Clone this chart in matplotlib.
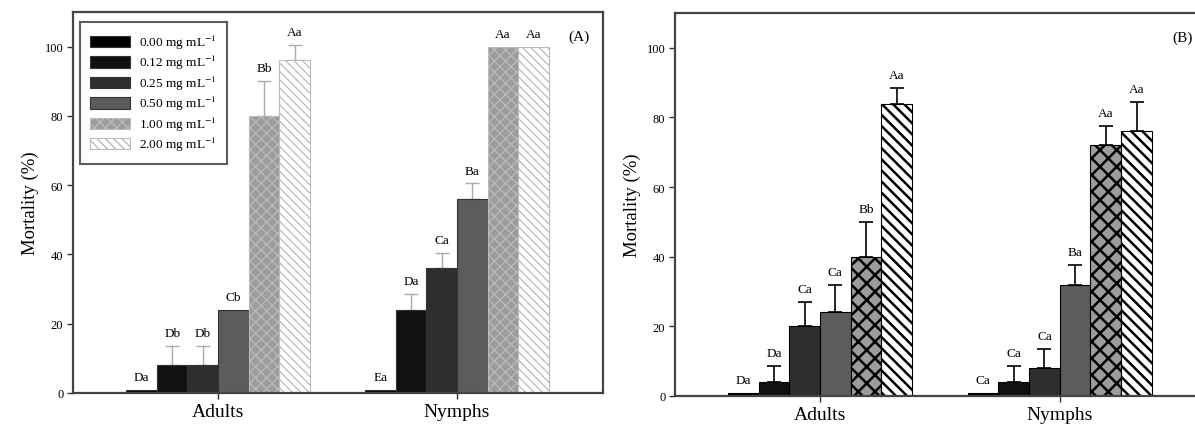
import numpy as np
import matplotlib
matplotlib.use("Agg")
import matplotlib.pyplot as plt

plt.rcParams['font.family'] = ['Liberation Serif', 'DejaVu Serif']
plt.rcParams['mathtext.fontset'] = 'stix'

groups = ['Adults', 'Nymphs']
doses = ['0.00', '0.12', '0.25', '0.50', '1.00', '2.00']

# panel A
a_vals = [[1, 8, 8, 24, 80, 96], [1, 24, 36, 56, 100, 100]]
a_err = [[0, 5.5, 5.5, 0, 10, 4.5], [0, 4.5, 4.5, 4.5, 0, 0]]
a_lab = [['Da', 'Db', 'Db', 'Cb', 'Bb', 'Aa'], ['Ea', 'Da', 'Ca', 'Ba', 'Aa', 'Aa']]

# panel B
b_vals = [[1, 4, 20, 24, 40, 84], [1, 4, 8, 32, 72, 76]]
b_err = [[0, 4.5, 7, 8, 10, 4.5], [0, 4.5, 5.5, 5.5, 5.5, 8.5]]
b_lab = [['Da', 'Da', 'Ca', 'Ca', 'Bb', 'Aa'], ['Ca', 'Ca', 'Ca', 'Ba', 'Aa', 'Aa']]

fills = ['#000000', '#111111', '#2e2e2e', '#5c5c5c', '#9c9c9c', '#ffffff']

fig = plt.figure(figsize=(11.95, 4.27), dpi=100)
axA = fig.add_axes([0.0611, 0.0773, 0.4435, 0.8923])
axB = fig.add_axes([0.5649, 0.0703, 0.4444, 0.8969])

w = 0.128
x = np.arange(1, 3)


def panel(ax, vals, errs, labs, edge, ecol, ebw, hcol, hatches, hlw):
    for j in range(6):
        pos = x + (j - 2.5) * w
        v = [vals[0][j], vals[1][j]]
        e = [errs[0][j], errs[1][j]]
        ec = hcol if hatches[j] else edge
        with plt.rc_context({'hatch.linewidth': hlw}):
            ax.bar(pos, v, w, color=fills[j], edgecolor=ec, hatch=hatches[j],
                   linewidth=0.8, label=doses[j] + ' mg mL$^{-1}$', zorder=2)
        for p, vv, ee in zip(pos, v, e):
            if ee > 0:
                ax.errorbar(p, vv, yerr=[[0], [ee]], fmt='none', ecolor=ecol,
                            elinewidth=ebw, capsize=5, capthick=ebw, zorder=1)
        for i in range(2):
            ax.text(pos[i], v[i] + e[i] + 2, labs[i][j], ha='center', va='bottom',
                    fontsize=9.5)
    ax.set_ylim(0, 110)
    ax.set_yticks([0, 20, 40, 60, 80, 100])
    ax.set_xticks(x)
    ax.set_xticklabels(groups, fontsize=14)
    ax.set_ylabel('Mortality (%)', fontsize=13.5)
    ax.tick_params(axis='y', labelsize=9, length=4, width=1, color='#333333', pad=3)
    ax.tick_params(axis='x', length=4, width=1, color='#333333', pad=3)
    for s in ax.spines.values():
        s.set_color('#444444')
        s.set_linewidth(1.6)


panel(axA, a_vals, a_err, a_lab, '#333333', '#aaaaaa', 1.0, '#bbbbbb',
      [None, None, None, None, 'xxx', '\\\\\\\\'], 0.9)
axA.set_xlim(0.393, 2.611)
axA.text(0.975, 0.955, '(A)', transform=axA.transAxes, ha='right', va='top', fontsize=11)
leg = axA.legend(loc='upper left', bbox_to_anchor=(0.013, 0.973), fontsize=9.5,
                 handlelength=3.0, handleheight=0.95, handletextpad=0.7,
                 labelspacing=0.18, frameon=True, fancybox=False,
                 edgecolor='#333333', borderpad=0.8, borderaxespad=0)
leg.get_frame().set_linewidth(1.5)

panel(axB, b_vals, b_err, b_lab, '#000000', '#000000', 1.2, '#000000',
      [None, None, None, None, 'xx', '\\\\\\'], 1.8)
axB.set_xlim(0.396, 2.61)
axB.text(0.975, 0.955, '(B)', transform=axB.transAxes, ha='right', va='top', fontsize=11)

fig.savefig('out.png', dpi=100)
